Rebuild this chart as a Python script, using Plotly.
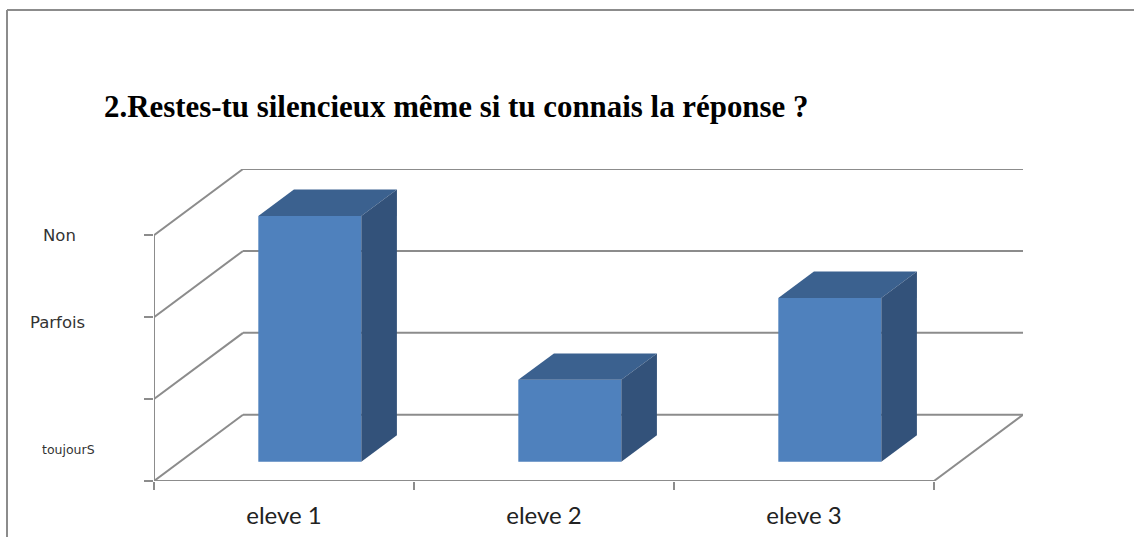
import plotly.graph_objects as go

TITLE = "2.Restes-tu silencieux même si tu connais la réponse ?"
categories = ["eleve 1", "eleve 2", "eleve 3"]
values = [3, 1, 2]
y_labels = ["Non", "Parfois", "toujourS"]
y_label_pos = [3.0, 1.93, 0.38]
y_label_size = [16.5, 16.5, 12.5]

# projection of depth on the chart's own axes
DX_WALL, DY_WALL = 89 / 260, 66 / 81.67
BAR_D0, BAR_D1 = 0.29, 0.69
BAR_W = 103 / 260

fig = go.Figure()
colors = dict(front="#4F81BD", top="#3B618F", side="#33527A")
positions = [i + 0.5 for i in range(len(categories))]


def px(c, d):
    return c + d * DX_WALL


def py(v, d):
    return v + d * DY_WALL


fig.add_trace(go.Bar(
    x=[px(p, BAR_D0) for p in positions],
    y=values,
    base=py(0, BAR_D0),
    width=BAR_W,
    marker=dict(color=colors["front"], line=dict(width=0)),
    showlegend=False,
))
for p, v in zip(positions, values):
    l, r = p - BAR_W / 2, p + BAR_W / 2
    fig.add_trace(go.Scatter(
        x=[px(l, BAR_D0), px(r, BAR_D0), px(r, BAR_D1), px(l, BAR_D1), px(l, BAR_D0)],
        y=[py(v, BAR_D0), py(v, BAR_D0), py(v, BAR_D1), py(v, BAR_D1), py(v, BAR_D0)],
        fill="toself", fillcolor=colors["top"], mode="none", showlegend=False,
    ))
    fig.add_trace(go.Scatter(
        x=[px(r, BAR_D0), px(r, BAR_D1), px(r, BAR_D1), px(r, BAR_D0), px(r, BAR_D0)],
        y=[py(0, BAR_D0), py(0, BAR_D1), py(v, BAR_D1), py(v, BAR_D0), py(0, BAR_D0)],
        fill="toself", fillcolor=colors["side"], mode="none", showlegend=False,
    ))

GRID = dict(color="#8C8C8C", width=2)
shapes = []
nx = len(categories)
for lv in range(4):
    shapes.append(dict(type="line", xref="x", yref="y", layer="below", x0=0, y0=lv, x1=DX_WALL, y1=lv + DY_WALL, line=GRID))
    shapes.append(dict(type="line", xref="x", yref="y", layer="below", x0=DX_WALL, y0=lv + DY_WALL, x1=nx + DX_WALL, y1=lv + DY_WALL, line=GRID))
shapes += [
    dict(type="line", xref="x", yref="y", layer="below", x0=0, y0=0, x1=nx, y1=0, line=GRID),
    dict(type="line", xref="x", yref="y", layer="below", x0=0, y0=0, x1=0, y1=3, line=GRID),
    dict(type="line", xref="x", yref="y", layer="below", x0=nx, y0=0, x1=nx + DX_WALL, y1=DY_WALL, line=GRID),
    # outer frame of the picture: left and top edges only are visible
    dict(type="line", xref="paper", yref="paper", layer="below",
         x0=-147 / 869, x1=-147 / 869, y0=-56 / 312, y1=1 + 159 / 312, line=dict(color="#8C8C8C", width=2)),
    dict(type="line", xref="paper", yref="paper", layer="below",
         x0=-147 / 869, x1=980 / 869, y0=1 + 159 / 312, y1=1 + 159 / 312, line=dict(color="#8C8C8C", width=2)),
]

annotations = [dict(text="<b>" + TITLE + "</b>", xref="paper", yref="paper", x=-52 / 869, y=1 + 63 / 312,
                    xanchor="left", yanchor="middle", showarrow=False,
                    font=dict(family="Liberation Serif", size=30.9, color="#000000"))]
xcenters = [59, 57, 68]
for t, v, s, xc in zip(y_labels, y_label_pos, y_label_size, xcenters):
    annotations.append(dict(text=t, xref="paper", yref="y", x=(xc - 154) / 869, y=v,
                            xanchor="center", yanchor="middle", showarrow=False,
                            font=dict(family="DejaVu Sans", size=s, color="#333333")))

fig.update_layout(
    width=1134, height=537, autosize=False,
    margin=dict(l=154, r=111, t=169, b=56, autoexpand=False),
    paper_bgcolor="white", plot_bgcolor="white",
    shapes=shapes, annotations=annotations, showlegend=False,
    xaxis=dict(range=[0, nx + DX_WALL], tickmode="array", tickvals=positions, ticktext=categories,
               ticks="", showgrid=False, zeroline=False, showline=False, ticklabelstandoff=18, automargin=False,
               tickfont=dict(family="Lato", size=24, color="#222222"),
               minor=dict(tickmode="array", tickvals=[0, 1, 2, 3], ticks="outside", ticklen=8, tickwidth=2, tickcolor="#8C8C8C", showgrid=False)),
    yaxis=dict(range=[0, 3 + DY_WALL], tickmode="array", tickvals=[0, 1, 2, 3], ticks="outside", ticklen=9, automargin=False,
               tickwidth=2, tickcolor="#8C8C8C", showticklabels=False, showgrid=False, zeroline=False, showline=False),
)
fig.write_html("out.html", config=dict(displayModeBar=False),
               post_script="document.body.style.margin='0';document.documentElement.style.overflow='hidden';")
